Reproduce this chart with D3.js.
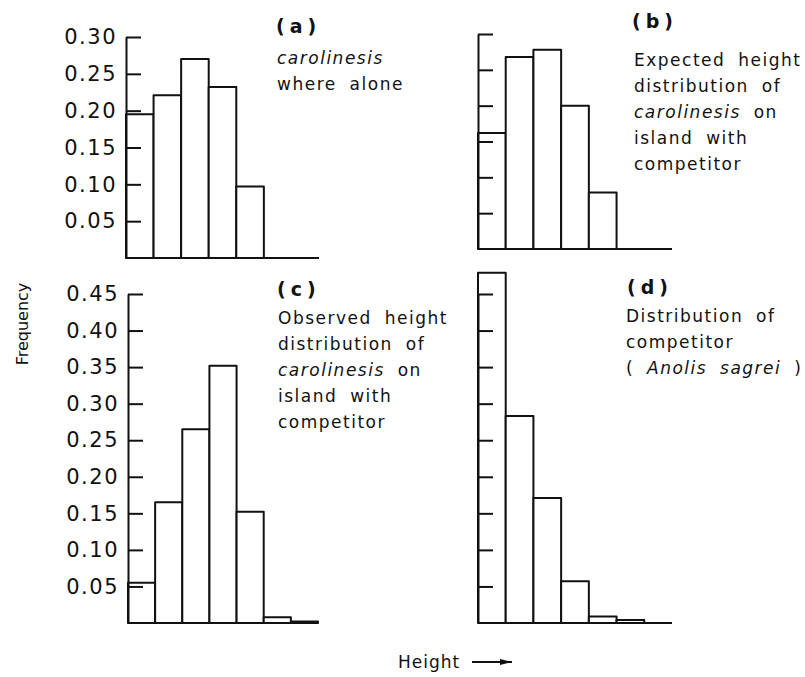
<!DOCTYPE html>
<html>
<head>
<meta charset="utf-8">
<script src="https://cdn.jsdelivr.net/npm/d3@7"></script>
<style>
  body { margin: 0; background: #fff; }
  svg { display: block; font-family: "DejaVu Sans", sans-serif; }
</style>
</head>
<body>
<svg id="chart" width="805" height="677"></svg>
<script>
// Height classes (bins along the perch-height axis)
const heightClasses = ["1", "2", "3", "4", "5", "6", "7"];

// Frequency per height class
const aloneFreq    = [0.195, 0.221, 0.270, 0.232, 0.097, 0, 0];
const expectedFreq = [0.162, 0.268, 0.278, 0.200, 0.079, 0, 0];
const observedFreq = [0.055, 0.165, 0.265, 0.352, 0.152, 0.008, 0.002];
const sagreiFreq   = [0.479, 0.283, 0.171, 0.057, 0.009, 0.004, 0];

// Tick values and labels
const ticksUpper = [0.05, 0.10, 0.15, 0.20, 0.25, 0.30];
const ticksLower = [0.05, 0.10, 0.15, 0.20, 0.25, 0.30, 0.35, 0.40, 0.45];
const tickLabelsUpper = ["0.05", "0.10", "0.15", "0.20", "0.25", "0.30"];
const tickLabelsLower = ["0.05", "0.10", "0.15", "0.20", "0.25", "0.30", "0.35", "0.40", "0.45"];

// Panel captions: each line is a list of [text, italic]
const captionA = [[["carolinesis", true]], [["where alone", false]]];
const captionB = [[["Expected height", false]], [["distribution of", false]],
                  [["carolinesis", true], [" on", false]], [["island with", false]], [["competitor", false]]];
const captionC = [[["Observed height", false]], [["distribution of", false]],
                  [["carolinesis", true], [" on", false]], [["island with", false]], [["competitor", false]]];
const captionD = [[["Distribution of", false]], [["competitor", false]],
                  [["( ", false], ["Anolis sagrei", true], [" )", false]]];

const svg = d3.select("#chart");
const INK = "#111";

const panels = [
  { tag: "a", values: aloneFreq, ticks: ticksUpper, labels: tickLabelsUpper, max: 0.30,
    x: [126, 319], y: [258, 37], tagPos: [276, 26], capPos: [277, 58], caption: captionA },
  { tag: "b", values: expectedFreq, ticks: ticksUpper, labels: null, max: 0.30,
    x: [478, 672], y: [249, 34], tagPos: [632, 21], capPos: [634, 60], caption: captionB },
  { tag: "c", values: observedFreq, ticks: ticksLower, labels: tickLabelsLower, max: 0.45,
    x: [128, 318], y: [623, 294], tagPos: [277, 289], capPos: [278, 318], caption: captionC },
  { tag: "d", values: sagreiFreq, ticks: ticksLower, labels: null, max: 0.45,
    x: [478, 672], y: [623, 294], tagPos: [627, 287], capPos: [626, 316], caption: captionD }
];

const lineStep = 26;

panels.forEach(p => {
  const g = svg.append("g").attr("class", "panel-" + p.tag);

  const x = d3.scaleBand().domain(heightClasses).range(p.x).paddingInner(0).paddingOuter(0);
  const y = d3.scaleLinear().domain([0, p.max]).range(p.y);

  // histogram bars
  g.append("g").selectAll("rect")
    .data(p.values.map((v, i) => ({ cls: heightClasses[i], v })).filter(d => d.v > 0))
    .join("rect")
      .attr("x", d => x(d.cls))
      .attr("y", d => y(d.v))
      .attr("width", x.bandwidth())
      .attr("height", d => y(0) - y(d.v))
      .attr("fill", "#fff")
      .attr("stroke", INK)
      .attr("stroke-width", 2)
      .attr("stroke-linejoin", "round");

  // baseline
  g.append("line")
    .attr("x1", p.x[0]).attr("x2", p.x[1])
    .attr("y1", y(0)).attr("y2", y(0))
    .attr("stroke", INK).attr("stroke-width", 2);

  // vertical axis with inward tick marks
  const axisMarks = g.append("g")
    .attr("transform", `translate(${p.x[0]},0)`)
    .call(d3.axisRight(y).tickValues(p.ticks).tickSize(15).tickSizeOuter(0).tickFormat(""));
  axisMarks.select(".domain").attr("stroke", INK).attr("stroke-width", 2);
  axisMarks.selectAll(".tick line").attr("stroke", INK).attr("stroke-width", 2);

  // tick labels on the left-hand panels
  if (p.labels) {
    const axisText = g.append("g")
      .attr("transform", `translate(${p.x[0]},0)`)
      .call(d3.axisLeft(y).tickValues(p.ticks).tickSize(0).tickPadding(9)
              .tickFormat((d, i) => p.labels[i]));
    axisText.select(".domain").remove();
    axisText.selectAll("text")
      .attr("fill", INK)
      .style("font-family", "'DejaVu Sans', sans-serif")
      .style("font-size", "21px")
      .style("letter-spacing", "1.5px");
  }

  // panel tag
  g.append("text")
    .attr("x", p.tagPos[0]).attr("y", p.tagPos[1])
    .attr("dy", "0.35em")
    .attr("fill", INK)
    .style("font-size", "19px")
    .style("font-weight", "bold")
    .style("letter-spacing", "5px")
    .text(`(${p.tag})`);

  // caption
  p.caption.forEach((line, li) => {
    const t = g.append("text")
      .attr("x", p.capPos[0]).attr("y", p.capPos[1] + li * lineStep)
      .attr("dy", "0.35em")
      .attr("fill", INK)
      .style("font-size", "17px")
      .style("letter-spacing", "1.5px")
      .style("word-spacing", "6px");
    line.forEach(([s, it]) => {
      t.append("tspan").style("font-style", it ? "italic" : "normal").text(s);
    });
  });
});

// y-axis title
svg.append("text")
  .attr("transform", "translate(22,324) rotate(-90)")
  .attr("text-anchor", "middle")
  .attr("dy", "0.35em")
  .attr("fill", INK)
  .style("font-size", "16px")
  .text("Frequency");

// x-axis title with arrow
svg.append("defs").append("marker")
  .attr("id", "arrowhead")
  .attr("viewBox", "0 0 12 6")
  .attr("refX", 12).attr("refY", 3)
  .attr("markerWidth", 12).attr("markerHeight", 6)
  .attr("markerUnits", "userSpaceOnUse")
  .attr("orient", "auto")
  .append("path").attr("d", "M0,0 L12,3 L0,6 Z").attr("fill", INK);

svg.append("text")
  .attr("x", 398).attr("y", 662)
  .attr("dy", "0.35em")
  .attr("fill", INK)
  .style("font-size", "17px")
  .style("letter-spacing", "1px")
  .text("Height");

svg.append("line")
  .attr("x1", 472).attr("x2", 512)
  .attr("y1", 662).attr("y2", 662)
  .attr("stroke", INK).attr("stroke-width", 2)
  .attr("marker-end", "url(#arrowhead)");
</script>
</body>
</html>
